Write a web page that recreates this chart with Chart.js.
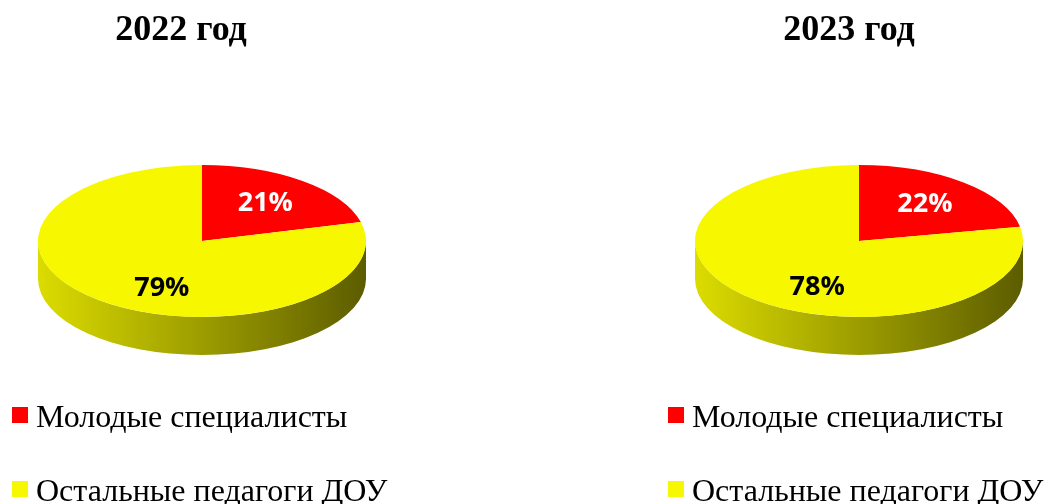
<!DOCTYPE html>
<html lang="ru">
<head>
<meta charset="utf-8">
<script src="https://cdn.jsdelivr.net/npm/chart.js@4.4.1/dist/chart.umd.min.js"></script>
<style>
  html, body { margin: 0; padding: 0; background: #fff; overflow: hidden; }
  .painel { position: absolute; top: 0; width: 522px; height: 504px; }
</style>
</head>
<body>
<div class="painel" style="left:0"><canvas id="grafico2022"></canvas></div>
<div class="painel" style="left:522px"><canvas id="grafico2023"></canvas></div>
<script>
// dados
const categorias = ['Молодые специалисты', 'Остальные педагоги ДОУ'];
const valores2022 = [21, 79];
const valores2023 = [22, 78];
const titulo2022 = '2022 год';
const titulo2023 = '2023 год';

const cores = ['#ff0000', '#f7f700'];
const coresLateral = [['#d40000', '#6a0000'], ['#dcdc00', '#5c5c00']];
const coresRotulo = ['#ffffff', '#000000'];

// ------------------- pizza "3D": lateral + achatamento -------------------
const pizza3d = {
  id: 'pizza3d',
  beforeDatasetsDraw(chart, args, opts) {
    const meta = chart.getDatasetMeta(0);
    if (!meta.data.length) return;
    const { x: cx, y: cy, outerRadius: r } = meta.data[0].getProps(['x', 'y', 'outerRadius'], true);
    const ry = r * opts.achatamento;
    const prof = opts.profundidade;
    const ctx = chart.ctx;

    // só a metade da frente (0..PI) mostra a lateral
    meta.data.forEach((el, i) => {
      const { startAngle, endAngle } = el.getProps(['startAngle', 'endAngle'], true);
      [-2 * Math.PI, 0, 2 * Math.PI].forEach((d) => {
        const a0 = Math.max(startAngle + d, 0);
        const a1 = Math.min(endAngle + d, Math.PI);
        if (a1 <= a0) return;
        const grad = ctx.createLinearGradient(cx - r, 0, cx + r, 0);
        grad.addColorStop(0, coresLateral[i][0]);
        grad.addColorStop(1, coresLateral[i][1]);
        ctx.beginPath();
        ctx.ellipse(cx, cy, r, ry, 0, a0, a1);
        ctx.ellipse(cx, cy + prof, r, ry, 0, a1, a0, true);
        ctx.closePath();
        ctx.fillStyle = grad;
        ctx.fill();
      });
    });

    ctx.save();
    ctx.translate(cx, cy);
    ctx.scale(1, ry / r);
    ctx.translate(-cx, -cy);
  },
  afterDatasetsDraw(chart) {
    chart.ctx.restore();
  },
  afterDraw(chart, args, opts) {
    const ctx = chart.ctx;
    const meta = chart.getDatasetMeta(0);
    const valores = chart.data.datasets[0].data;
    const { x: cx, y: cy, outerRadius: r } = meta.data[0].getProps(['x', 'y', 'outerRadius'], true);
    const ry = r * opts.achatamento;

    // rótulos de porcentagem
    ctx.save();
    ctx.font = 'bold 27px "Open Sans", sans-serif';
    ctx.textAlign = 'center';
    ctx.textBaseline = 'middle';
    meta.data.forEach((el, i) => {
      const { startAngle, endAngle } = el.getProps(['startAngle', 'endAngle'], true);
      const meio = (startAngle + endAngle) / 2;
      const f = opts.raioRotulo[i];
      let x = cx + f * r * Math.cos(meio);
      let y = cy + f * ry * Math.sin(meio);
      if (Math.sin(meio) > 0) y += opts.profundidade * 0.6;
      ctx.fillStyle = coresRotulo[i];
      ctx.fillText(valores[i] + '%', x, y);
    });

    // título
    ctx.font = 'bold 36px "Liberation Serif", "Times New Roman", serif';
    ctx.textBaseline = 'alphabetic';
    ctx.fillStyle = '#000';
    ctx.fillText(opts.titulo, opts.tituloX, 40);

    // legenda
    ctx.textAlign = 'left';
    ctx.font = '32px "Liberation Serif", "Times New Roman", serif';
    chart.data.labels.forEach((rotulo, i) => {
      const topo = opts.legendaY + i * opts.legendaPasso;
      ctx.fillStyle = chart.data.datasets[0].backgroundColor[i];
      ctx.fillRect(opts.legendaX, topo, 16, 16);
      ctx.fillStyle = '#000';
      ctx.fillText(rotulo, opts.legendaX + 24, topo + 20);
    });
    ctx.restore();
  }
};

function criarGrafico(id, valores, titulo, padding, tituloX, legendaX) {
  return new Chart(document.getElementById(id), {
    type: 'pie',
    data: {
      labels: categorias,
      datasets: [{
        data: valores,
        backgroundColor: cores,
        borderWidth: 0,
        hoverOffset: 0
      }]
    },
    options: {
      responsive: true,
      maintainAspectRatio: false,
      animation: false,
      layout: { padding },
      plugins: {
        legend: { display: false },
        title: { display: false },
        tooltip: { enabled: false },
        pizza3d: {
          achatamento: 76 / 164,
          profundidade: 38,
          raioRotulo: [0.63, 0.40],
          titulo,
          tituloX,
          legendaX,
          legendaY: 407,
          legendaPasso: 74
        }
      }
    },
    plugins: [pizza3d]
  });
}

criarGrafico('grafico2022', valores2022, titulo2022, { left: 38, right: 156, top: 77, bottom: 99 }, 181, 12);
criarGrafico('grafico2023', valores2023, titulo2023, { left: 173, right: 21, top: 77, bottom: 99 }, 327, 146);
</script>
</body>
</html>
